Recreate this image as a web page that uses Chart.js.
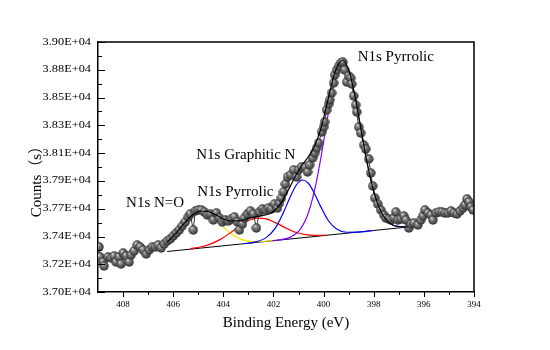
<!DOCTYPE html>
<html>
<head>
<meta charset="utf-8">
<script src="https://cdn.jsdelivr.net/npm/chart.js@4"></script>
<style>
  html, body { margin: 0; padding: 0; background: #fff; }
  #container { width: 550px; height: 350px; }
</style>
</head>
<body>
<div id="container"><canvas id="c" width="550" height="350"></canvas></div>
<script>
// raw spectrum
const energy = [408.96, 408.92, 408.80, 408.76, 408.60, 408.48, 408.36, 408.28, 408.16, 408.08,
  408.00, 407.88, 407.76, 407.68, 407.56, 407.44, 407.32, 407.20, 407.08, 406.96,
  406.84, 406.72, 406.60, 406.48, 406.36, 406.24, 406.12, 406.00, 405.88, 405.76,
  405.64, 405.52, 405.40, 405.32, 405.20, 405.12, 405.00, 404.88, 404.76, 404.64,
  404.52, 404.40, 404.28, 404.16, 404.04, 403.92, 403.80, 403.68, 403.56, 403.44,
  403.36, 403.24, 403.16, 403.04, 402.92, 402.80, 402.68, 402.56, 402.44, 402.32,
  402.20, 402.08, 401.96, 401.84, 401.76, 401.68, 401.60, 401.52, 401.44, 401.32,
  401.20, 401.08, 401.00, 400.88, 400.76, 400.64, 400.56, 400.44, 400.36, 400.28,
  400.20, 400.08, 400.00, 399.96, 399.88, 399.80, 399.76, 399.68, 399.60, 399.56,
  399.48, 399.40, 399.32, 399.24, 399.16, 399.08, 399.00, 398.92, 398.88, 398.80,
  398.72, 398.68, 398.60, 398.52, 398.40, 398.32, 398.20, 398.12, 398.04, 397.96,
  397.84, 397.72, 397.60, 397.52, 397.40, 397.32, 397.20, 397.12, 397.04, 396.92,
  396.80, 396.72, 396.60, 396.52, 396.40, 396.24, 396.12, 396.04, 395.96, 395.84,
  395.72, 395.64, 395.52, 395.40, 395.28, 395.16, 395.04, 394.92, 394.80, 394.68,
  394.56, 394.44, 394.36, 394.28, 394.20, 394.12, 394.04];
const counts = [37360, 37280, 37240, 37208, 37280, 37272, 37288, 37240, 37280, 37224,
  37312, 37288, 37240, 37296, 37328, 37376, 37360, 37336, 37304, 37336,
  37360, 37360, 37376, 37352, 37384, 37408, 37424, 37448, 37472, 37496,
  37528, 37560, 37600, 37624, 37496, 37648, 37656, 37656, 37640, 37616,
  37624, 37576, 37632, 37592, 37560, 37576, 37568, 37584, 37600, 37560,
  37496, 37544, 37592, 37624, 37648, 37624, 37512, 37640, 37664, 37656,
  37672, 37664, 37704, 37672, 37712, 37752, 37800, 37864, 37920, 37936,
  37976, 37920, 37976, 38000, 38000, 37960, 38016, 38072, 38112, 38152,
  38192, 38280, 38320, 38360, 38456, 38504, 38536, 38592, 38672, 38736,
  38776, 38808, 38832, 38840, 38776, 38680, 38728, 38712, 38664, 38568,
  38496, 38440, 38320, 38272, 38176, 38144, 38064, 37952, 37848, 37752,
  37704, 37656, 37616, 37592, 37584, 37576, 37592, 37640, 37576, 37584,
  37608, 37576, 37512, 37544, 37552, 37536, 37576, 37608, 37656, 37632,
  37616, 37576, 37632, 37640, 37640, 37632, 37632, 37648, 37632, 37624,
  37648, 37672, 37696, 37744, 37720, 37680, 37656];

// cumulative fit
const fitEnergy = [406.24, 405.92, 405.52, 405.24, 404.92, 404.60, 404.32, 404.00, 403.72, 403.40,
  403.08, 402.76, 402.44, 402.04, 401.72, 401.40, 401.08, 400.84, 400.60, 400.36,
  400.12, 399.92, 399.72, 399.52, 399.24, 399.00, 398.76, 398.52, 398.28, 398.04,
  397.72, 397.32, 396.92, 396.64];
const fitCounts = [37399, 37465, 37559, 37614, 37648, 37643, 37619, 37585, 37568, 37569,
  37583, 37600, 37610, 37638, 37705, 37819, 37944, 38020, 38084, 38166,
  38300, 38456, 38626, 38774, 38856, 38777, 38579, 38316, 38050, 37834,
  37646, 37545, 37522, 37520];

const baseEnergy = [406.24, 396.64];
const baseCounts = [37324, 37520];

// N=O (yellow)
const noEnergy = [406.24, 405.92, 405.52, 405.24, 404.92, 404.60, 404.32, 404.00, 403.72, 403.40,
  403.08, 402.76, 402.44, 402.04];
const noCounts = [37399, 37465, 37558, 37610, 37639, 37623, 37582, 37520, 37470, 37431,
  37409, 37403, 37404, 37410];

// pyrrolic, low (red)
const redEnergy = [405.32, 404.92, 404.52, 404.12, 403.72, 403.32, 402.92, 402.64, 402.32, 401.92,
  401.52, 401.12, 400.72, 400.32, 399.92];
const redCounts = [37346, 37360, 37383, 37421, 37473, 37532, 37578, 37591, 37587, 37555,
  37513, 37478, 37459, 37453, 37455];

// graphitic N (blue)
const graphEnergy = [403.20, 402.72, 402.32, 401.92, 401.60, 401.32, 401.08, 400.84, 400.60, 400.36,
  400.12, 399.80, 399.48, 399.08, 398.68, 398.00];
const graphCounts = [37386, 37401, 37431, 37513, 37637, 37766, 37858, 37896, 37868, 37786,
  37685, 37568, 37504, 37478, 37479, 37492];

// pyrrolic, main (purple)
const pyrEnergy = [402.00, 401.32, 400.92, 400.60, 400.32, 400.12, 399.92, 399.72, 399.52, 399.24,
  399.00, 398.76, 398.52, 398.28, 398.04, 397.72, 397.32, 396.92, 396.64];
const pyrCounts = [37411, 37439, 37505, 37638, 37851, 38060, 38300, 38536, 38726, 38840,
  38771, 38577, 38315, 38050, 37834, 37646, 37545, 37522, 37520];

const xTickValues = [408, 406, 404, 402, 400, 398, 396, 394];
const xMinorTicks = [407, 405, 403, 401, 399, 397, 395];
const yTickValues = [37000, 37222, 37444, 37667, 37889, 38111, 38333, 38556, 38778, 39000];
const yTickLabels = ["3.70E+04", "3.72E+04", "3.74E+04", "3.77E+04", "3.79E+04",
  "3.81E+04", "3.83E+04", "3.85E+04", "3.88E+04", "3.90E+04"];

const noteText = ["N1s Pyrrolic", "N1s Graphitic N", "N1s Pyrrolic", "N1s N=O"];
const noteEnergy = [398.64, 405.08, 405.04, 407.88];
const noteCounts = [38848, 38064, 37768, 37680];

const SERIF = '"Liberation Serif", "Times New Roman", serif';

function pts(xs, ys) {
  return xs.map((v, i) => ({ x: v, y: ys[i] }));
}

function makeBall(r) {
  const c = document.createElement("canvas");
  c.width = c.height = r * 2;
  const g = c.getContext("2d");
  const grad = g.createRadialGradient(r * 0.7, r * 0.6, r * 0.05, r, r, r);
  grad.addColorStop(0, "#d6d6d6");
  grad.addColorStop(0.3, "#858585");
  grad.addColorStop(0.75, "#494949");
  grad.addColorStop(1, "#2a2a2a");
  g.fillStyle = grad;
  g.beginPath();
  g.arc(r, r, r - 0.3, 0, Math.PI * 2);
  g.fill();
  return c;
}

function curve(xs, ys, color, width) {
  return {
    data: pts(xs, ys),
    showLine: true,
    borderColor: color,
    borderWidth: width,
    pointRadius: 0,
    cubicInterpolationMode: "monotone",
  };
}

const decor = {
  id: "decor",
  afterDraw(chart) {
    const { ctx, chartArea: a, scales: { x, y } } = chart;
    ctx.save();
    ctx.strokeStyle = "#000";
    ctx.fillStyle = "#000";
    ctx.lineWidth = 1.5;
    ctx.beginPath();
    ctx.moveTo(a.left, a.top);
    ctx.lineTo(a.right, a.top);
    ctx.lineTo(a.right, a.bottom);
    ctx.stroke();

    ctx.lineWidth = 1;
    ctx.beginPath();
    yTickValues.forEach((v, i) => {
      const py = Math.round(y.getPixelForValue(v)) + 0.5;
      ctx.moveTo(a.left, py);
      ctx.lineTo(a.left + 7, py);
      if (i < yTickValues.length - 1) {
        const pm = Math.round(y.getPixelForValue((v + yTickValues[i + 1]) / 2)) + 0.5;
        ctx.moveTo(a.left, pm);
        ctx.lineTo(a.left + 4, pm);
      }
    });
    xTickValues.forEach((v) => {
      const px = Math.round(x.getPixelForValue(v)) + 0.5;
      ctx.moveTo(px, a.bottom);
      ctx.lineTo(px, a.bottom + 5);
    });
    xMinorTicks.forEach((v) => {
      const px = Math.round(x.getPixelForValue(v)) + 0.5;
      ctx.moveTo(px, a.bottom);
      ctx.lineTo(px, a.bottom + 3);
    });
    ctx.stroke();

    ctx.font = "9.5px " + SERIF;
    ctx.textAlign = "right";
    ctx.textBaseline = "middle";
    yTickValues.forEach((v, i) => {
      ctx.save();
      ctx.translate(a.left - 7, y.getPixelForValue(v));
      ctx.scale(1.3, 1);
      ctx.fillText(yTickLabels[i], 0, 0);
      ctx.restore();
    });

    ctx.save();
    ctx.translate(37, 178);
    ctx.rotate(-Math.PI / 2);
    ctx.font = '15px "Liberation Serif", "Noto Sans CJK SC", serif';
    ctx.textAlign = "center";
    ctx.fillText("Counts（s）", 0, 0);
    ctx.restore();

    ctx.font = "15px " + SERIF;
    ctx.textAlign = "left";
    ctx.textBaseline = "alphabetic";
    noteText.forEach((t, i) => {
      ctx.fillText(t, x.getPixelForValue(noteEnergy[i]), y.getPixelForValue(noteCounts[i]));
    });
    ctx.restore();
  },
};

const ball = makeBall(5);

const config = {
  type: "scatter",
  data: {
    datasets: [
      curve(fitEnergy, fitCounts, "#000000", 1.2),
      {
        data: pts(energy, counts),
        showLine: true,
        borderColor: "#000000",
        borderWidth: 0.8,
        pointStyle: ball,
        pointRadius: 5,
      },
      curve(pyrEnergy, pyrCounts, "#8000ff", 1.2),
      curve(graphEnergy, graphCounts, "#0000ff", 1.2),
      curve(redEnergy, redCounts, "#ff0000", 1.2),
      curve(noEnergy, noCounts, "#f2e600", 1.2),
      curve(baseEnergy, baseCounts, "#000000", 1),
    ],
  },
  options: {
    responsive: false,
    animation: false,
    layout: { padding: { top: 42, right: 76, bottom: 0, left: 0 } },
    plugins: { legend: { display: false }, tooltip: { enabled: false } },
    scales: {
      x: {
        type: "linear",
        min: 394,
        max: 409,
        reverse: true,
        afterBuildTicks: (s) => { s.ticks = xTickValues.map((v) => ({ value: v })); },
        afterFit: (s) => { s.height = 58; },
        ticks: {
          callback: (v) => String(v),
          font: { family: SERIF, size: 9 },
          color: "#000",
          padding: 7,
          maxRotation: 0,
          autoSkip: false,
        },
        grid: { display: false, drawTicks: false },
        border: { color: "#000", width: 1.5 },
        title: {
          display: true,
          text: "Binding Energy (eV)",
          font: { family: SERIF, size: 15 },
          color: "#000",
          padding: { top: 0, bottom: 18 },
        },
      },
      y: {
        type: "linear",
        min: 37000,
        max: 39000,
        afterFit: (s) => { s.width = 98; },
        ticks: { display: false },
        grid: { display: false, drawTicks: false },
        border: { color: "#000", width: 1.5 },
      },
    },
  },
  plugins: [decor],
};

new Chart(document.getElementById("c").getContext("2d"), config);
</script>
</body>
</html>
